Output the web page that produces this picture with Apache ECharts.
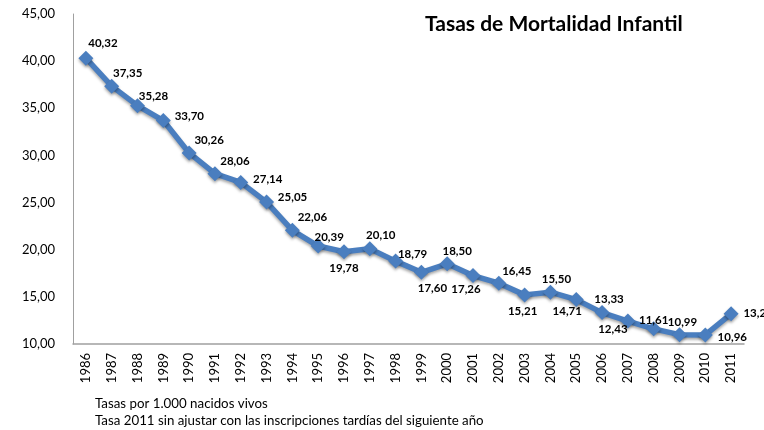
<!DOCTYPE html>
<html>
<head>
<meta charset="utf-8">
<script src="https://cdn.jsdelivr.net/npm/echarts@6/dist/echarts.min.js"></script>
<style>
html,body{margin:0;padding:0;background:#fff;}
#chart{width:764px;height:430px;}
</style>
</head>
<body>
<div id="chart"></div>
<script type="text/javascript">
// datos
var years = ['1986','1987','1988','1989','1990','1991','1992','1993','1994','1995','1996','1997','1998',
	'1999','2000','2001','2002','2003','2004','2005','2006','2007','2008','2009','2010','2011'];
var tasas = [40.32,37.35,35.28,33.70,30.26,28.06,27.14,25.05,22.06,20.39,19.78,20.10,18.79,
	17.60,18.50,17.26,16.45,15.21,15.50,14.71,13.33,12.43,11.61,10.99,10.96,13.20];
var notas = ['Tasas por 1.000 nacidos vivos','Tasa 2011 sin ajustar con las inscripciones tardías del siguiente año'];

// desplazamiento de etiquetas respecto al punto
var offs = {
	'1986':[17,-15],'1987':[16,-13],'1988':[16,-9],'1989':[26,-4],'1990':[20,-13],'1991':[20,-12],
	'1992':[27,-3],'1993':[26,-5],'1994':[20,-13],'1995':[11,-9],'1996':[0,17],'1997':[11,-13],
	'1998':[17,-7],'1999':[11,16],'2000':[10,-13],'2001':[-7,14],'2002':[18,-12],'2003':[-2,16],
	'2004':[6,-13],'2005':[-9,12],'2006':[7,-13],'2007':[-15,8],'2008':[0,-9],'2009':[3,-12],
	'2010':[27,2],'2011':[27,-1]
};

function coma(v){ return v.toFixed(2).replace('.', ','); }

var font = 'Lato, "Liberation Sans", sans-serif';
var chart = echarts.init(document.getElementById('chart'));

var puntos = tasas.map(function(v,i){
	return {value:v, label:{offset:offs[years[i]]}};
});

var option = {
	animation:false,
	textStyle:{fontFamily:font},
	grid:{left:73,right:20,top:14,bottom:86},
	title:{
		text:'Tasas de Mortalidad Infantil',
		left:420, top:9,
		textStyle:{fontFamily:font,fontSize:21,fontWeight:'bold',color:'#000'}
	},
	xAxis:{
		type:'category',
		data:years,
		boundaryGap:true,
		axisLine:{lineStyle:{color:'#a0a0a0',width:1.5}},
		axisTick:{show:false},
		axisLabel:{rotate:90,fontSize:13,color:'#000',margin:9,fontFamily:font}
	},
	yAxis:{
		type:'value',
		min:10,max:45,interval:5,
		splitLine:{show:false},
		axisLine:{show:true,lineStyle:{color:'#a0a0a0',width:1}},
		axisTick:{show:false},
		axisLabel:{fontSize:13,color:'#000',margin:18,fontFamily:font,formatter:coma}
	},
	series:[{
		type:'line',
		data:puntos,
		symbol:'diamond',
		symbolSize:15,
		lineStyle:{color:'#4a7ebf',width:5.5,shadowColor:'rgba(0,0,0,0.35)',shadowBlur:3,shadowOffsetY:2},
		itemStyle:{color:'#4a7ebf',shadowColor:'rgba(0,0,0,0.35)',shadowBlur:3,shadowOffsetY:2},
		label:{
			show:true,position:'inside',
			fontSize:11.5,fontWeight:'bold',color:'#000',fontFamily:font,
			formatter:function(p){ return coma(p.value); }
		}
	}],
	graphic:[
		{type:'text',left:95,top:397,style:{text:notas[0],font:'13.3px '+font,fill:'#000'}},
		{type:'text',left:95,top:414,style:{text:notas[1],font:'13.3px '+font,fill:'#000'}}
	]
};
chart.setOption(option);
</script>
</body>
</html>
